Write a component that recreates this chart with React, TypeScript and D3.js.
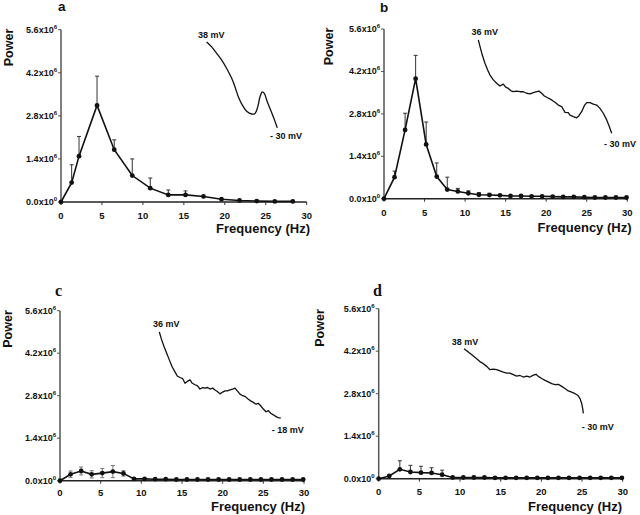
import React from 'react';
import * as d3 from 'd3';

// ---------- data (power in units of 10^6) ----------
const FREQ_A = [0, 1.3, 2.2, 4.4, 6.5, 8.7, 10.9, 13.1, 15.2, 17.4, 19.6, 21.8, 23.9, 26.1, 28.3];
const POWER_A = [0, 0.63, 1.49, 3.14, 1.7, 0.86, 0.45, 0.23, 0.23, 0.18, 0.09, 0.05, 0.03, 0.02, 0.02];
const SEM_A = [0, 0.58, 0.64, 0.95, 0.32, 0.54, 0.33, 0.16, 0.13, 0, 0, 0, 0, 0, 0];

const FREQ_BCD = [0, 1.3, 2.6, 3.9, 5.2, 6.5, 7.8, 9.1, 10.4, 11.7, 13.0, 14.3, 15.6, 16.9, 18.2, 19.5, 20.8, 22.1, 23.4, 24.7, 26.0, 27.3, 28.6, 29.9];
const POWER_B = [0, 0.71, 2.27, 3.96, 1.79, 0.73, 0.3, 0.24, 0.18, 0.13, 0.12, 0.11, 0.09, 0.09, 0.08, 0.08, 0.07, 0.06, 0.06, 0.05, 0.04, 0.04, 0.04, 0.04];
const SEM_B = [0, 0.2, 0.55, 0.77, 0.74, 0.45, 0.41, 0.1, 0.08, 0.07, 0.06, 0, 0, 0, 0, 0, 0, 0, 0, 0, 0, 0, 0, 0];

const POWER_C = [0, 0.21, 0.32, 0.21, 0.25, 0.3, 0.24, 0.06, 0.06, 0.05, 0.05, 0.04, 0.04, 0.04, 0.04, 0.04, 0.04, 0.04, 0.04, 0.04, 0.04, 0.04, 0.04, 0.04];
const SEM_C = [0, 0.11, 0.13, 0.12, 0.15, 0.2, 0.09, 0, 0, 0, 0, 0, 0, 0, 0, 0, 0, 0, 0, 0, 0, 0, 0, 0];

const POWER_D = [0, 0.09, 0.31, 0.22, 0.2, 0.19, 0.13, 0.04, 0.04, 0.04, 0.04, 0.03, 0.03, 0.03, 0.03, 0.03, 0.03, 0.03, 0.03, 0.03, 0.03, 0.03, 0.03, 0.03];
const SEM_D = [0, 0.03, 0.28, 0.22, 0.21, 0.17, 0.15, 0, 0, 0, 0, 0, 0, 0, 0, 0, 0, 0, 0, 0, 0, 0, 0, 0];

const Y_TICKS = [0, 1.4, 2.8, 4.2, 5.6];
const Y_TICK_MANTISSA = ['0.0', '1.4', '2.8', '4.2', '5.6'];
const Y_TICK_EXP = ['0', '6', '6', '6', '6'];
const X_TICKS = [0, 5, 10, 15, 20, 25, 30];

// inset membrane-potential traces, drawn in the panel's (Hz, power) frame
const TRACE_A: [number, number][] = [
  [17.79, 5.2], [18.4, 5.04], [19.01, 4.83], [19.62, 4.61], [20.23, 4.34], [20.84, 4.02], [21.25, 3.74],
  [21.65, 3.42], [22.14, 3.15], [22.67, 2.95], [23.28, 2.86], [23.69, 2.88], [24.02, 3.09], [24.3, 3.42],
  [24.58, 3.58], [24.82, 3.53], [25.12, 3.31], [25.52, 3.04], [25.92, 2.77], [26.21, 2.56], [26.41, 2.41],
];
const TRACE_B: [number, number][] = [
  [11.63, 5.24], [11.84, 5.02], [12.12, 4.74], [12.45, 4.47], [12.78, 4.25], [13.07, 4.08], [13.48, 3.92],
  [13.89, 3.81], [14.3, 3.72], [14.71, 3.78], [15.0, 3.68], [15.33, 3.64], [15.66, 3.56], [15.94, 3.53],
  [16.36, 3.55], [16.77, 3.53], [17.18, 3.53], [17.59, 3.48], [18.0, 3.46], [18.41, 3.5], [18.83, 3.53],
  [19.11, 3.55], [19.44, 3.48], [19.77, 3.39], [20.18, 3.33], [20.67, 3.26], [21.08, 3.18], [21.49, 3.09],
  [21.91, 3.04], [22.32, 2.85], [22.72, 2.84], [22.93, 2.76], [23.34, 2.71], [23.76, 2.67], [24.04, 2.74],
  [24.37, 2.87], [24.7, 3.07], [24.99, 3.17], [25.4, 3.17], [25.81, 3.12], [26.22, 3.09], [26.63, 2.98],
  [27.04, 2.82], [27.46, 2.6], [27.78, 2.38], [28.07, 2.16],
];
const TRACE_C: [number, number][] = [
  [12.21, 4.9], [12.5, 4.64], [12.79, 4.42], [13.12, 4.2], [13.44, 3.98], [13.77, 3.76], [14.1, 3.6],
  [14.42, 3.45], [14.75, 3.4], [15.09, 3.36], [15.37, 3.21], [15.65, 3.27], [15.98, 3.32], [16.27, 3.21],
  [16.6, 3.16], [16.88, 3.13], [17.21, 3.02], [17.55, 3.07], [17.83, 3.05], [18.16, 3.07], [18.44, 3.02],
  [18.77, 3.05], [19.06, 2.99], [19.34, 2.94], [19.67, 2.86], [20.0, 2.92], [20.29, 2.96], [20.57, 2.96],
  [20.9, 2.99], [21.23, 3.02], [21.52, 3.05], [21.8, 2.96], [22.13, 2.85], [22.46, 2.8], [22.79, 2.77],
  [23.12, 2.69], [23.44, 2.63], [23.77, 2.58], [24.1, 2.52], [24.38, 2.55], [24.67, 2.47], [25.0, 2.36],
  [25.33, 2.27], [25.61, 2.31], [25.91, 2.22], [26.23, 2.17], [26.56, 2.11], [26.84, 2.08], [27.14, 2.06],
];
const TRACE_D: [number, number][] = [
  [10.49, 4.28], [11.02, 4.17], [11.56, 4.06], [12.05, 3.95], [12.54, 3.84], [12.86, 3.79], [13.28, 3.7],
  [13.68, 3.59], [14.09, 3.61], [14.51, 3.59], [14.91, 3.55], [15.32, 3.51], [15.74, 3.48], [16.14, 3.48],
  [16.55, 3.43], [16.97, 3.38], [17.37, 3.4], [17.78, 3.35], [18.2, 3.38], [18.6, 3.35], [19.01, 3.41],
  [19.34, 3.44], [19.62, 3.37], [20.04, 3.3], [20.45, 3.24], [20.85, 3.19], [21.27, 3.13], [21.68, 3.1],
  [22.08, 3.11], [22.5, 3.04], [22.91, 2.97], [23.31, 2.89], [23.73, 2.85], [24.14, 2.8], [24.47, 2.75],
  [24.75, 2.64], [24.96, 2.48], [25.08, 2.31], [25.16, 2.15],
];

const TRACE_TOP_LABELS = ['38 mV', '36 mV', '36 mV', '38 mV'];
const TRACE_BOTTOM_LABELS = ['- 30 mV', '- 30 mV', '- 18 mV', '- 30 mV'];
const PANEL_LETTERS = ['a', 'b', 'c', 'd'];

const SANS = '"Liberation Sans", Arial, Helvetica, sans-serif';
const SERIF = '"Liberation Serif", "Times New Roman", serif';

type PanelCfg = {
  freq: number[];
  power: number[];
  sem: number[];
  semBoth: boolean;
  trace: [number, number][];
  smooth: boolean;
  topLabel: string;
  bottomLabel: string;
  letter: string;
  letterSerif: boolean;
  x0: number; x1: number; yB: number; yT: number;
  xTickDy: number;
  letterPos: [number, number];
  powerPos: [number, number];
  freqPos: [number, number];
  topLabelPos: [number, number];
  bottomLabelPos: [number, number];
};

function Panel({ c }: { c: PanelCfg }) {
  const x = d3.scaleLinear().domain([0, 30]).range([c.x0, c.x1]);
  const y = d3.scaleLinear().domain([0, 5.6]).range([c.yB, c.yT]);
  const line = d3.line<number>().x((_, i) => x(c.freq[i])).y((d) => y(d));
  const tLine = d3
    .line<[number, number]>()
    .x((d) => x(d[0]))
    .y((d) => y(d[1]))
    .curve(c.smooth ? d3.curveCatmullRom : d3.curveLinear);

  return (
    <g>
      {/* axes */}
      <line x1={c.x0} x2={c.x0} y1={c.yB} y2={c.yT} stroke="#555" strokeWidth={1.5} />
      {Y_TICKS.map((t, i) => (
        <g key={'yt' + i}>
          <line x1={c.x0 - 3} x2={c.x0} y1={y(t)} y2={y(t)} stroke="#555" strokeWidth={1} />
          <text x={c.x0 - 4} y={y(t) + 3} textAnchor="end" fontFamily={SANS} fontWeight="bold" fontSize={9} fill="#111">
            {Y_TICK_MANTISSA[i]}x10
            <tspan fontSize={6} dy={-4}>{Y_TICK_EXP[i]}</tspan>
          </text>
        </g>
      ))}
      <line x1={c.x0} x2={c.x1} y1={c.yB} y2={c.yB} stroke="#222" strokeWidth={1.5} />
      {X_TICKS.map((t, i) => (
        <g key={'xt' + i}>
          <line x1={x(t)} x2={x(t)} y1={c.yB} y2={c.yB + 3} stroke="#333" strokeWidth={1} />
          <text x={x(t)} y={c.yB + c.xTickDy} textAnchor="middle" fontFamily={SANS} fontWeight="bold" fontSize={9.5} fill="#111">
            {t}
          </text>
        </g>
      ))}
      <text
        transform={`translate(${c.powerPos[0]},${c.powerPos[1]}) rotate(-90)`}
        textAnchor="middle"
        fontFamily={SANS}
        fontWeight="bold"
        fontSize={12.5}
        fill="#111"
      >
        Power
      </text>
      <text x={c.freqPos[0]} y={c.freqPos[1]} textAnchor="end" fontFamily={SANS} fontWeight="bold" fontSize={13} fill="#111">
        Frequency (Hz)
      </text>
      <text
        x={c.letterPos[0]}
        y={c.letterPos[1]}
        fontFamily={c.letterSerif ? SERIF : SANS}
        fontWeight="bold"
        fontSize={c.letterSerif ? 16 : 13.5}
        fill="#111"
      >
        {c.letter}
      </text>

      {/* error bars */}
      {c.power.map((p, i) =>
        c.sem[i] > 0 ? (
          <g key={'e' + i} stroke={c.semBoth ? '#777' : '#333'} strokeWidth={1}>
            <line x1={x(c.freq[i])} x2={x(c.freq[i])} y1={y(c.semBoth ? p - c.sem[i] : p)} y2={y(p + c.sem[i])} />
            <line x1={x(c.freq[i]) - 2} x2={x(c.freq[i]) + 2} y1={y(p + c.sem[i])} y2={y(p + c.sem[i])} />
            {c.semBoth && (
              <line x1={x(c.freq[i]) - 2} x2={x(c.freq[i]) + 2} y1={y(p - c.sem[i])} y2={y(p - c.sem[i])} />
            )}
          </g>
        ) : null
      )}
      {/* mean line + points */}
      <path d={line(c.power) || ''} fill="none" stroke="#111" strokeWidth={1.6} />
      {c.power.map((p, i) => (
        <circle key={'p' + i} cx={x(c.freq[i])} cy={y(p)} r={2.4} fill="#111" />
      ))}

      {/* inset trace */}
      <path d={tLine(c.trace) || ''} fill="none" stroke="#111" strokeWidth={1.3} strokeLinejoin="round" />
      <text x={c.topLabelPos[0]} y={c.topLabelPos[1]} textAnchor="middle" fontFamily={SANS} fontWeight="bold" fontSize={9} fill="#111">
        {c.topLabel}
      </text>
      <text x={c.bottomLabelPos[0]} y={c.bottomLabelPos[1]} textAnchor="start" fontFamily={SANS} fontWeight="bold" fontSize={9} fill="#111">
        {c.bottomLabel}
      </text>
    </g>
  );
}

const PANELS: PanelCfg[] = [
  {
    freq: FREQ_A, power: POWER_A, sem: SEM_A, semBoth: false, trace: TRACE_A, smooth: true,
    topLabel: TRACE_TOP_LABELS[0], bottomLabel: TRACE_BOTTOM_LABELS[0], letter: PANEL_LETTERS[0], letterSerif: false,
    x0: 61, x1: 306.7, yB: 202, yT: 29.7, xTickDy: 17,
    letterPos: [58, 11], powerPos: [13, 47.5], freqPos: [310, 233],
    topLabelPos: [211.3, 38], bottomLabelPos: [270, 139],
  },
  {
    freq: FREQ_BCD, power: POWER_B, sem: SEM_B, semBoth: false, trace: TRACE_B, smooth: false,
    topLabel: TRACE_TOP_LABELS[1], bottomLabel: TRACE_BOTTOM_LABELS[1], letter: PANEL_LETTERS[1], letterSerif: false,
    x0: 384, x1: 627.3, yB: 198.7, yT: 29, xTickDy: 17.5,
    letterPos: [380, 11.7], powerPos: [333, 46.5], freqPos: [631.5, 232],
    topLabelPos: [484.7, 34.5], bottomLabelPos: [604, 147],
  },
  {
    freq: FREQ_BCD, power: POWER_C, sem: SEM_C, semBoth: true, trace: TRACE_C, smooth: false,
    topLabel: TRACE_TOP_LABELS[2], bottomLabel: TRACE_BOTTOM_LABELS[2], letter: PANEL_LETTERS[2], letterSerif: true,
    x0: 60, x1: 304, yB: 480.7, yT: 310.7, xTickDy: 15,
    letterPos: [55, 296], powerPos: [12, 329], freqPos: [305, 511],
    topLabelPos: [166.3, 327], bottomLabelPos: [271.7, 432.5],
  },
  {
    freq: FREQ_BCD, power: POWER_D, sem: SEM_D, semBoth: false, trace: TRACE_D, smooth: false,
    topLabel: TRACE_TOP_LABELS[3], bottomLabel: TRACE_BOTTOM_LABELS[3], letter: PANEL_LETTERS[3], letterSerif: true,
    x0: 378.7, x1: 622.7, yB: 478.7, yT: 308.7, xTickDy: 16,
    letterPos: [373, 296], powerPos: [324, 328], freqPos: [622, 511],
    topLabelPos: [465, 344.5], bottomLabelPos: [581.7, 430],
  },
];

export default function App() {
  return (
    <svg width={640} height={515} style={{ position: 'absolute', left: 0, top: 0, background: '#fff' }}>
      <rect x={0} y={0} width={640} height={515} fill="#fff" />
      {PANELS.map((p, i) => (
        <Panel key={i} c={p} />
      ))}
    </svg>
  );
}
